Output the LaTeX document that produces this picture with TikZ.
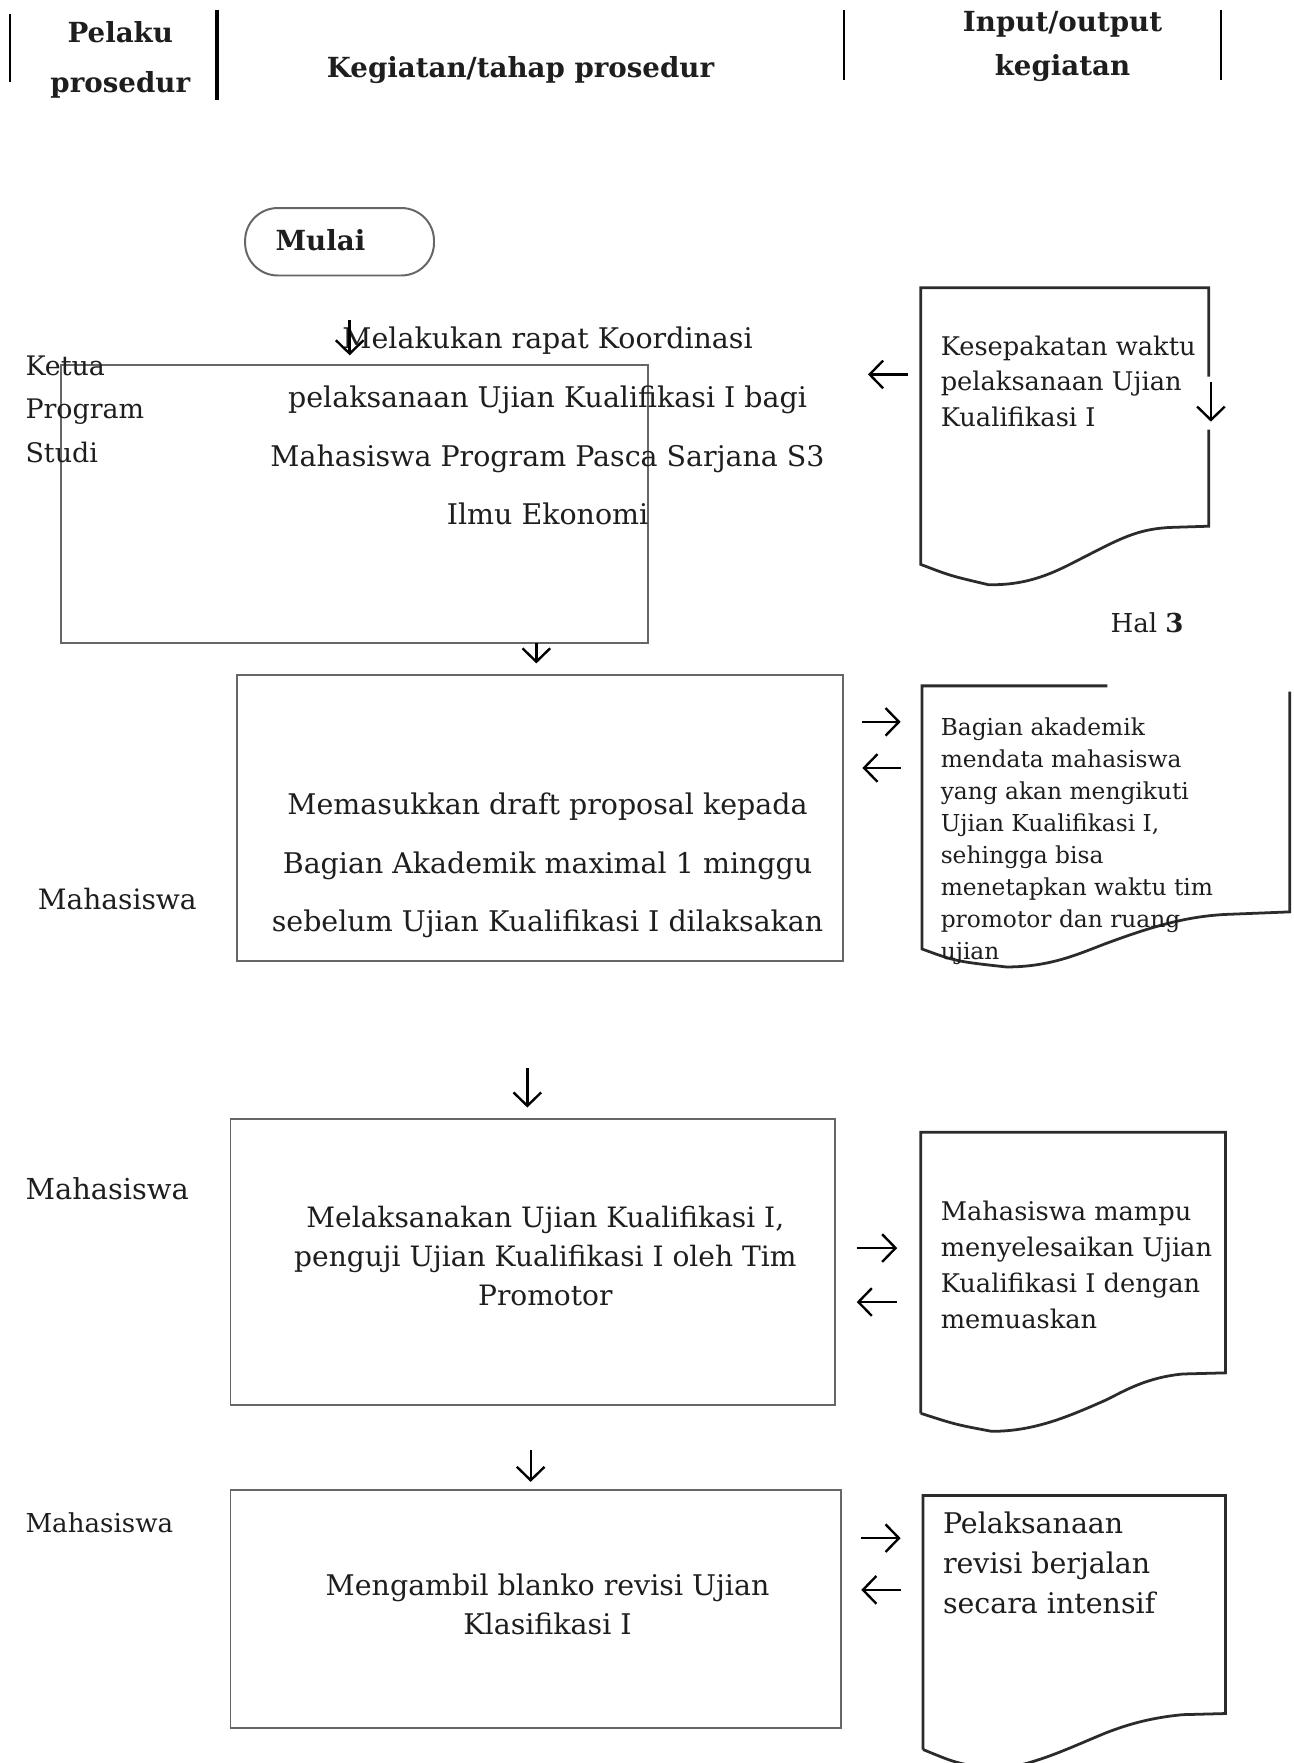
\documentclass[tikz,border=0pt]{standalone}
\usepackage{fontspec}
\setmainfont{DejaVu Serif}
\usetikzlibrary{arrows.meta, positioning, fit}
\definecolor{boxLine}{HTML}{666666}
\definecolor{docLine}{HTML}{2B2B2B}
\definecolor{txtCol}{HTML}{1E1E1E}

\newcommand{\fsz}[2]{\fontsize{#1}{#2}\selectfont}

\begin{document}
\begin{tikzpicture}[x=0.01cm, y=-0.01cm,
  prosbox/.style={draw=boxLine, line width=0.5pt, inner sep=0pt},
  startbox/.style={draw=boxLine, line width=0.5pt, inner sep=0pt, rounded corners=0.29cm},
  docpath/.style={draw=docLine, line width=0.7pt},
  lane/.style={draw=black, line width=0.5pt},
  arr/.style={-{Straight Barb[length=3.4pt,width=7pt]}, line width=0.6pt},
  boxtext/.style={align=center, text=txtCol, inner sep=0pt},
  doctext/.style={align=left, anchor=west, text=txtCol, inner sep=0pt},
  actor/.style={align=left, anchor=west, text=txtCol, inner sep=0pt},
  headtext/.style={align=center, text=txtCol, inner sep=0pt, font=\bfseries\fsz{7}{12}}
]
\useasboundingbox (0,0) rectangle (1150,1568);
\clip (0,0) rectangle (1150,1568);

% header
\draw[lane] (9,12) -- (9,73);
\draw[lane, line width=0.9pt] (193,9) -- (193,89);
\draw[lane] (751,9) -- (751,71);
\draw[lane] (1086,9) -- (1086,71);
\node[headtext, font=\bfseries\fsz{7}{12.6}] (hpelaku) at (107,53) {Pelaku\\prosedur};
\node[headtext] (hkegiatan) at (463,62) {Kegiatan/tahap prosedur};
\node[headtext, font=\bfseries\fsz{7}{11.1}] (hinput) at (945,41) {Input/output\\kegiatan};

% mulai
\node[startbox, fit={(218,185) (386,245)}] (mulai) {};
\node[text=txtCol, inner sep=0pt, font=\bfseries\fsz{7}{8}] (mulaitext) at (285,214) {Mulai};

% langkah 1
\node[prosbox, fit={(54,325) (576,572)}] (box1) {};
\node[boxtext, font=\fsz{7.2}{14.8}] (t1) at (487,379)
  {Melakukan rapat Koordinasi\\pelaksanaan Ujian Kualifikasi I bagi\\Mahasiswa Program Pasca Sarjana S3\\Ilmu Ekonomi};
\node[actor, font=\fsz{6.8}{11.1}] (a1) at (22,364) {Ketua\\Program\\Studi};
\coordinate (d1a) at (311,285);
\coordinate (d1b) at (311,316);
\draw[arr] (d1a) -- (d1b);

\draw[docpath] (1075,335) -- (1075,256) -- (819,256) -- (819,502)
  .. controls (845,512) .. (879,520)
  .. controls (920,521) and (945,505) .. (969,493)
  .. controls (1000,477) and (1015,470) .. (1043,469) -- (1075,468) -- (1075,382);
\node[doctext, font=\fsz{6.5}{9}] (o1) at (836,339) {Kesepakatan waktu\\pelaksanaan Ujian\\Kualifikasi I};
\coordinate (o1a) at (808,333);
\coordinate (o1b) at (772,333);
\draw[arr] (o1a) -- (o1b);
\coordinate (o1c) at (1077,340);
\coordinate (o1d) at (1077,375);
\draw[arr] (o1c) -- (o1d);
\node[anchor=west, text=txtCol, inner sep=0pt, font=\fsz{6.6}{8}] (hal) at (987,554) {Hal \textbf{3}};

% langkah 2
\coordinate (d2a) at (477,572);
\coordinate (d2b) at (477,590);
\draw[arr] (d2a) -- (d2b);
\node[prosbox, fit={(211,600) (750,855)}] (box2) {};
\node[boxtext, font=\fsz{7.2}{14.8}] (t2) at (487,770)
  {Memasukkan draft proposal kepada\\Bagian Akademik maximal 1 minggu\\sebelum Ujian Kualifikasi I dilaksakan};
\node[actor, font=\fsz{7.1}{9}] (a2) at (33,800) {Mahasiswa};

\draw[docpath] (985,610) -- (820,610) -- (820,844)
  .. controls (850,855) .. (895,860)
  .. controls (935,860) and (960,848) .. (984,839)
  .. controls (1030,822) and (1060,814) .. (1097,813) -- (1147,811) -- (1147,615);
\node[doctext, font=\fsz{5.9}{8.1}] (o2) at (836,748)
  {Bagian akademik\\mendata mahasiswa\\yang akan mengikuti\\Ujian Kualifikasi I,\\sehingga bisa\\menetapkan waktu tim\\promotor dan ruang\\ujian};
\coordinate (o2a) at (767,642);
\coordinate (o2b) at (801,642);
\draw[arr] (o2a) -- (o2b);
\coordinate (o2c) at (801,683);
\coordinate (o2d) at (767,683);
\draw[arr] (o2c) -- (o2d);

% langkah 3
\coordinate (d3a) at (469,950);
\coordinate (d3b) at (469,985);
\draw[arr] (d3a) -- (d3b);
\node[prosbox, fit={(205,995) (743,1250)}] (box3) {};
\node[boxtext, font=\fsz{7.1}{9.8}] (t3) at (485,1117)
  {Melaksanakan Ujian Kualifikasi I,\\penguji Ujian Kualifikasi I oleh Tim\\Promotor};
\node[actor, font=\fsz{7.3}{9}] (a3) at (22,1057) {Mahasiswa};

\draw[docpath] (819,1257) -- (819,1007) -- (1090,1007) -- (1090,1221) -- (1052,1222)
  .. controls (1020,1225) and (1000,1237) .. (984,1245)
  .. controls (950,1260) and (920,1273) .. (882,1273)
  .. controls (850,1267) .. (819,1257);
\node[doctext, font=\fsz{6.5}{9.1}] (o3) at (836,1125)
  {Mahasiswa mampu\\menyelesaikan Ujian\\Kualifikasi I dengan\\memuaskan};
\coordinate (o3a) at (762,1110);
\coordinate (o3b) at (798,1110);
\draw[arr] (o3a) -- (o3b);
\coordinate (o3c) at (798,1158);
\coordinate (o3d) at (762,1158);
\draw[arr] (o3c) -- (o3d);

% langkah 4
\coordinate (d4a) at (472,1290);
\coordinate (d4b) at (472,1318);
\draw[arr] (d4a) -- (d4b);
\node[prosbox, fit={(205,1325) (748,1537)}] (box4) {};
\node[boxtext, font=\fsz{7.2}{10}] (t4) at (487,1427)
  {Mengambil blanko revisi Ujian\\Klasifikasi I};
\node[actor, font=\fsz{6.6}{8}] (a4) at (22,1354) {Mahasiswa};

\draw[docpath] (821,1556) -- (821,1330) -- (1090,1330) -- (1090,1524) -- (1052,1525)
  .. controls (1020,1528) and (1000,1535) .. (984,1541)
  .. controls (950,1555) and (920,1570) .. (884,1574)
  .. controls (850,1568) .. (821,1556);
\node[doctext, font=\fsz{7.2}{10}] (o4) at (838,1390)
  {Pelaksanaan\\revisi berjalan\\secara intensif};
\coordinate (o4a) at (766,1368);
\coordinate (o4b) at (801,1368);
\draw[arr] (o4a) -- (o4b);
\coordinate (o4c) at (801,1414);
\coordinate (o4d) at (766,1414);
\draw[arr] (o4c) -- (o4d);
\end{tikzpicture}
\end{document}
